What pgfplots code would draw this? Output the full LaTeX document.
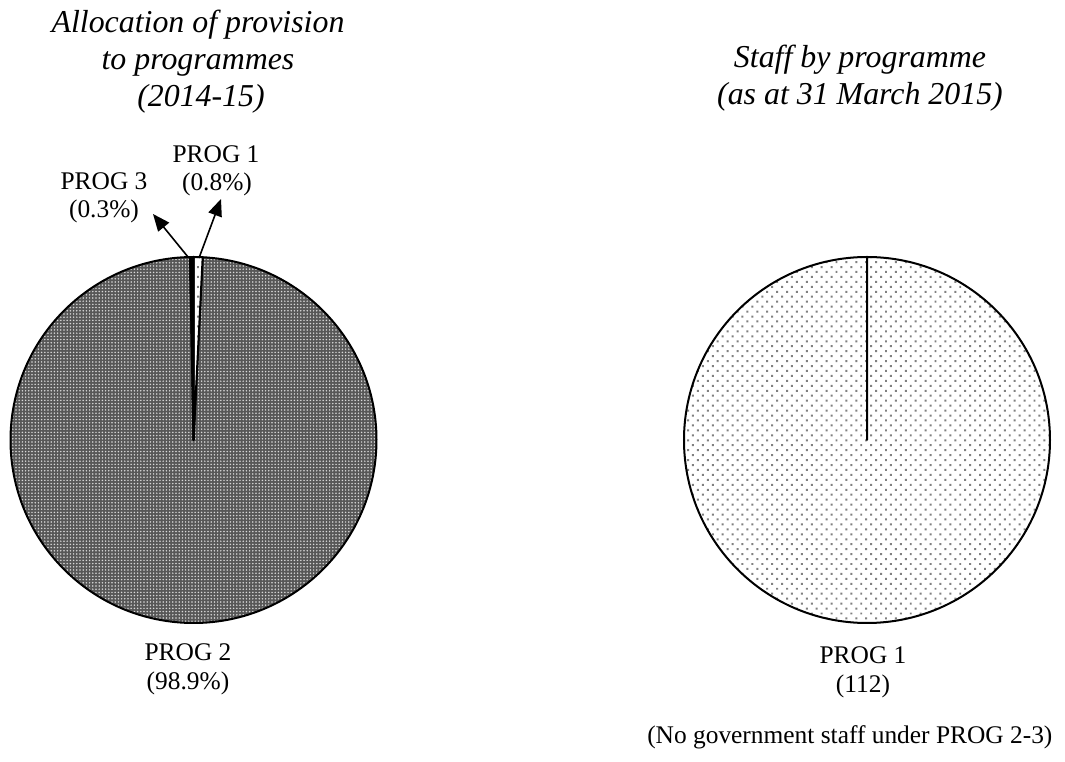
\documentclass[border=0pt]{standalone}
\usepackage{pgfplots}
\pgfplotsset{compat=1.18}
\usepackage{fontspec}
\setmainfont{Liberation Serif}
\usetikzlibrary{patterns.meta,arrows.meta}

\begin{document}
\begin{tikzpicture}
% ---- data ----
% Allocation of provision to programmes (2014-15), per cent
\def\provA{0.8}   % PROG 1
\def\provB{98.9}  % PROG 2
\def\provC{0.3}   % PROG 3
% Staff by programme (as at 31 March 2015)
\def\staffA{112}  % PROG 1
\pgfmathsetmacro\tot{\provA+\provB+\provC}
\pgfmathsetmacro\aA{90-3.6*(100*\provA/\tot)}
\pgfmathsetmacro\aB{\aA-3.6*(100*\provB/\tot)}
\pgfmathsetmacro\aC{\aB-3.6*(100*\provC/\tot)}
\pgfmathsetmacro\sA{90-3.6*(100*\staffA/\staffA)}
\def\R{183bp}
\begin{axis}[scale only axis, width=1065bp, height=762bp,
  at={(0,0)}, anchor=south west,
  xmin=0, xmax=1065, ymin=0, ymax=762, hide axis, clip=false]
\addplot[draw=none, forget plot] coordinates {(0,0) (1065,762)};
% ---- left pie ----
% PROG 2
\fill[black!66] (axis cs:193.5,322) -- ++(\aA:\R) arc[start angle=\aA, end angle=\aB, radius=\R] -- cycle;
\fill[pattern={Dots[distance=3.2bp, radius=0.85bp]}, pattern color=black!15] (axis cs:193.5,322) -- ++(\aA:\R) arc[start angle=\aA, end angle=\aB, radius=\R] -- cycle;
\draw[line width=2bp, line join=round] (axis cs:193.5,322) -- ++(\aA:\R) arc[start angle=\aA, end angle=\aB, radius=\R] -- cycle;
% PROG 1
\fill[white] (axis cs:193.5,322) -- ++(90:\R) arc[start angle=90, end angle=\aA, radius=\R] -- cycle;
\fill[pattern={Dots[distance=7bp, angle=45, radius=1.4bp]}, pattern color=black!50] (axis cs:193.5,322) -- ++(90:\R) arc[start angle=90, end angle=\aA, radius=\R] -- cycle;
\draw[line width=2bp, line join=round] (axis cs:193.5,322) -- ++(90:\R) arc[start angle=90, end angle=\aA, radius=\R] -- cycle;
% PROG 3
\filldraw[fill=black, line width=2bp, line join=round] (axis cs:193.5,322) -- ++(\aB:\R) arc[start angle=\aB, end angle=\aC, radius=\R] -- cycle;
% ---- right pie ----
\fill[white] (axis cs:867,322) -- ++(90:\R) arc[start angle=90, end angle=\sA, radius=\R] -- cycle;
\fill[pattern={Dots[distance=7bp, angle=45, radius=1.4bp]}, pattern color=black!50] (axis cs:867,322) -- ++(90:\R) arc[start angle=90, end angle=\sA, radius=\R] -- cycle;
\draw[line width=2bp, line join=round] (axis cs:867,322) -- ++(90:\R) arc[start angle=90, end angle=\sA, radius=\R] -- cycle;
% ---- titles ----
\node[anchor=base, font=\fontsize{32}{38}\selectfont\itshape] at (axis cs:198,729) {Allocation of provision};
\node[anchor=base, font=\fontsize{32}{38}\selectfont\itshape] at (axis cs:198,692) {to programmes};
\node[anchor=base, font=\fontsize{32}{38}\selectfont\itshape] at (axis cs:201,655) {(2014-15)};
\node[anchor=base, font=\fontsize{32}{38}\selectfont\itshape] at (axis cs:860,694) {Staff by programme};
\node[anchor=base, font=\fontsize{32}{38}\selectfont\itshape] at (axis cs:860,657) {(as at 31 March 2015)};
% ---- labels ----
\node[anchor=base, font=\fontsize{25.5}{30}\selectfont] at (axis cs:216,599) {PROG 1};
\node[anchor=base, font=\fontsize{25.5}{30}\selectfont] at (axis cs:217,571) {(0.8\%)};
\node[anchor=base, font=\fontsize{25.5}{30}\selectfont] at (axis cs:104,572) {PROG 3};
\node[anchor=base, font=\fontsize{25.5}{30}\selectfont] at (axis cs:104,544) {(0.3\%)};
\node[anchor=base, font=\fontsize{25.5}{30}\selectfont] at (axis cs:188,101) {PROG 2};
\node[anchor=base, font=\fontsize{25.5}{30}\selectfont] at (axis cs:188,72) {(98.9\%)};
\node[anchor=base, font=\fontsize{25.5}{30}\selectfont] at (axis cs:863,98) {PROG 1};
\node[anchor=base, font=\fontsize{25.5}{30}\selectfont] at (axis cs:863,69) {(112)};
\node[anchor=base east, font=\fontsize{25.5}{30}\selectfont] at (axis cs:1056,19) {(No government staff under PROG 2-3)};
% ---- leader arrows ----
\draw[line width=1.6bp, -{Triangle[length=17bp, width=14bp]}] (axis cs:188,505) -- (axis cs:153,548);
\draw[line width=1.6bp, -{Triangle[length=17bp, width=14bp]}] (axis cs:199,504) -- (axis cs:221,563);
\end{axis}
\pgfresetboundingbox
\path (0,0) rectangle (1065bp,762bp);
\end{tikzpicture}
\end{document}
